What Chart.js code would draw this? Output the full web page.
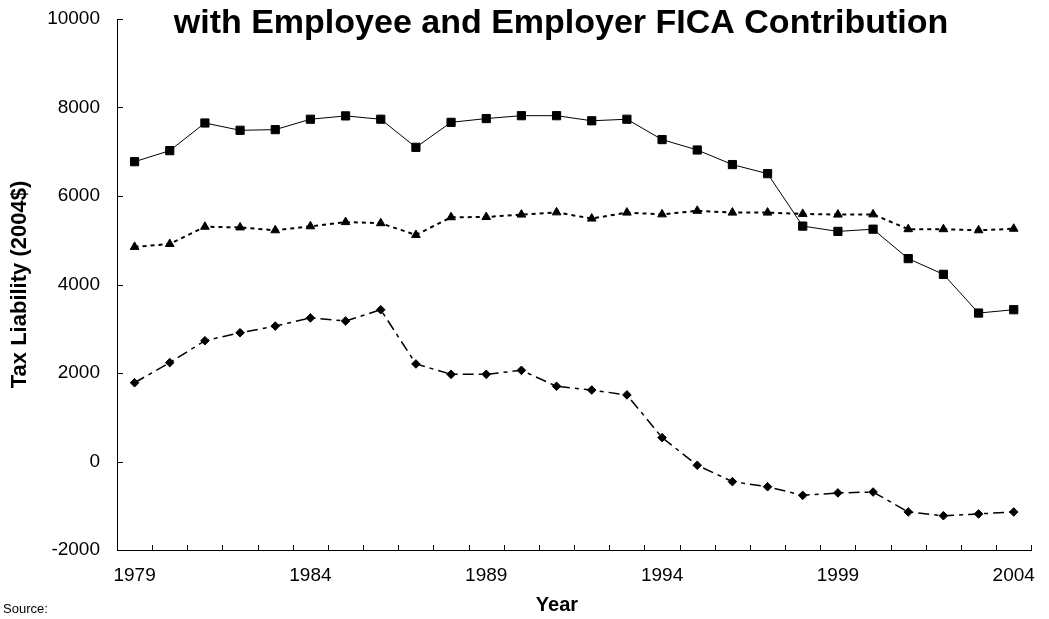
<!DOCTYPE html>
<html>
<head>
<meta charset="utf-8">
<title>Tax Liability</title>
<script src="https://cdn.jsdelivr.net/npm/chart.js@4/dist/chart.umd.min.js"></script>
<style>
  body { margin: 0; background: #fff; }
  canvas { display: block; }
</style>
</head>
<body>
<canvas id="taxChart" width="1049" height="619"></canvas>
<script>
// anos (categorias)
const years = ['1979', '1980', '1981', '1982', '1983', '1984', '1985', '1986', '1987',
  '1988', '1989', '1990', '1991', '1992', '1993', '1994', '1995', '1996', '1997',
  '1998', '1999', '2000', '2001', '2002', '2003', '2004'];

// rótulos mostrados no eixo x
const yearLabels = ['1979', '1984', '1989', '1994', '1999', '2004'];

// série com quadrados (linha contínua)
const squareSeries = [6775, 7025, 7650, 7485, 7500, 7735, 7810, 7735, 7100,
  7665, 7750, 7815, 7815, 7700, 7735, 7275, 7040, 6710, 6505,
  5320, 5200, 5250, 4585, 4230, 3355, 3430];

// série com triângulos (pontilhada)
const triangleSeries = [4850, 4915, 5305, 5290, 5225, 5315, 5410, 5385, 5120,
  5520, 5525, 5580, 5630, 5490, 5625, 5585, 5665, 5625, 5625,
  5595, 5580, 5585, 5250, 5250, 5225, 5260];

// série com losangos (traço-ponto)
const diamondSeries = [1780, 2235, 2730, 2910, 3060, 3245, 3175, 3430, 2205,
  1970, 1970, 2060, 1700, 1615, 1505, 540, -85, -455, -570,
  -765, -710, -690, -1140, -1225, -1185, -1140];

const FONT = 'Arial, "Liberation Sans", sans-serif';

// marcas das escalas para dentro + títulos
const extras = {
  id: 'extras',
  afterDraw(chart) {
    const ctx = chart.ctx;
    const x = chart.scales.x;
    const y = chart.scales.y;
    const area = chart.chartArea;
    ctx.save();
    ctx.strokeStyle = '#000';
    ctx.lineWidth = 1;
    ctx.beginPath();
    y.ticks.forEach(t => {
      const py = Math.round(y.getPixelForValue(t.value)) + 0.5;
      ctx.moveTo(area.left, py);
      ctx.lineTo(area.left + 6, py);
    });
    for (let i = 0; i <= years.length; i++) {
      const px = Math.round(x.getPixelForValue(i - 0.5)) + 0.5;
      ctx.moveTo(px, area.bottom);
      ctx.lineTo(px, area.bottom - 5);
    }
    ctx.stroke();

    ctx.fillStyle = '#000';
    ctx.textAlign = 'center';
    ctx.textBaseline = 'alphabetic';
    ctx.font = 'bold 34px ' + FONT;
    ctx.fillText('with Employee and Employer FICA Contribution', 561, 33);

    ctx.font = 'bold 20px ' + FONT;
    ctx.fillText('Year', 557, 611);

    ctx.textAlign = 'left';
    ctx.font = '13px ' + FONT;
    ctx.fillText('Source:', 3, 613);
    ctx.restore();
  }
};

const ctx = document.getElementById('taxChart').getContext('2d');
new Chart(ctx, {
  type: 'line',
  data: {
    labels: years,
    datasets: [{
      label: 'Series 1',
      data: squareSeries,
      borderColor: '#000',
      backgroundColor: '#000',
      borderWidth: 1,
      pointStyle: 'rect',
      pointRadius: 5.8,
      pointBorderWidth: 1
    }, {
      label: 'Series 2',
      data: triangleSeries,
      borderColor: '#000',
      backgroundColor: '#000',
      borderWidth: 2,
      borderDash: [4, 4],
      pointStyle: 'triangle',
      pointRadius: 5,
      pointBorderWidth: 1
    }, {
      label: 'Series 3',
      data: diamondSeries,
      borderColor: '#000',
      backgroundColor: '#000',
      borderWidth: 1.5,
      borderDash: [11, 5, 4, 5],
      pointStyle: 'rectRot',
      pointRadius: 4.3,
      pointBorderWidth: 1
    }]
  },
  options: {
    responsive: false,
    animation: false,
    layout: { padding: { top: 19, right: 7, left: 0, bottom: 0 } },
    plugins: {
      legend: { display: false },
      tooltip: { enabled: false }
    },
    scales: {
      x: {
        offset: true,
        grid: { offset: true, drawOnChartArea: false, drawTicks: false },
        border: { display: true, color: '#000', width: 1 },
        ticks: {
          autoSkip: false,
          maxRotation: 0,
          padding: 14,
          color: '#000',
          font: { family: FONT, size: 19 },
          callback: function (value) {
            const label = this.getLabelForValue(value);
            return yearLabels.includes(label) ? label : '';
          }
        },
        afterFit: s => { s.height = 69; }
      },
      y: {
        min: -2000,
        max: 10000,
        grid: { drawOnChartArea: false, drawTicks: false },
        border: { display: true, color: '#000', width: 1 },
        ticks: {
          stepSize: 2000,
          padding: 17,
          color: '#000',
          font: { family: FONT, size: 19 },
          callback: v => String(v)
        },
        title: {
          display: true,
          text: 'Tax Liability (2004$)',
          color: '#000',
          font: { family: FONT, size: 22, weight: 'bold' },
          padding: { top: 7, bottom: 0 }
        },
        afterFit: s => {
          s.width = 117;
          s.paddingTop = 0;
          s.paddingBottom = 0;
        }
      }
    }
  },
  plugins: [extras]
});
</script>
</body>
</html>
